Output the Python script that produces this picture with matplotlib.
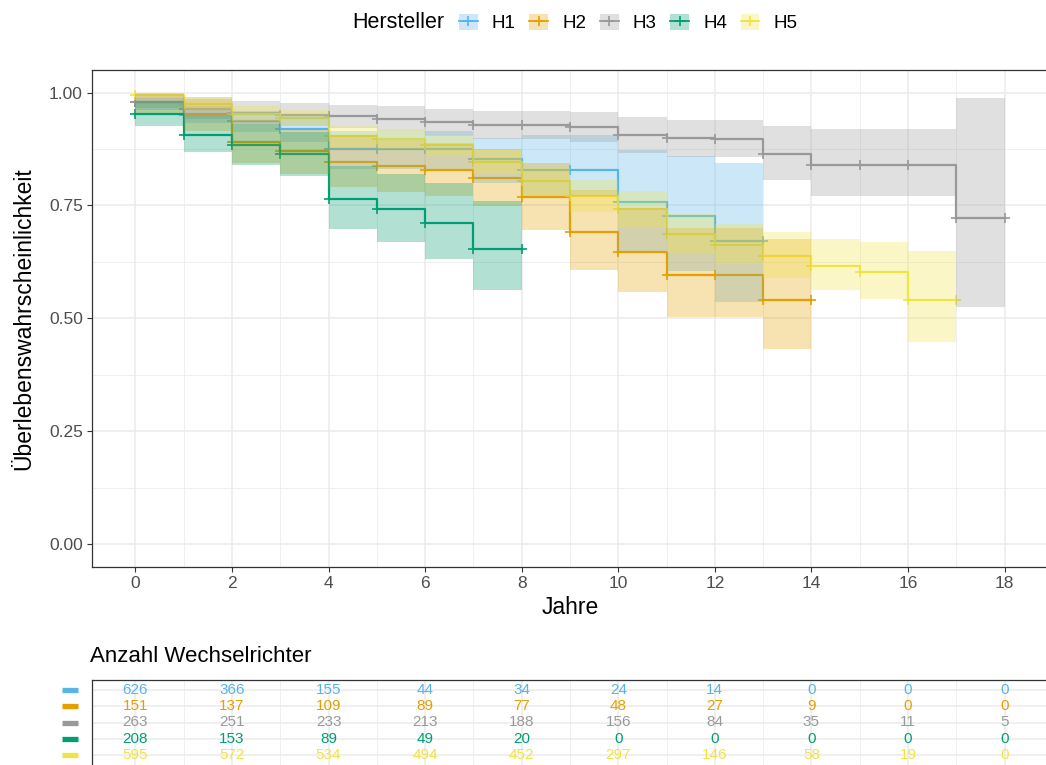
import numpy as np
import matplotlib.pyplot as plt
from matplotlib.patches import Patch
from matplotlib.lines import Line2D
from matplotlib.legend_handler import HandlerTuple
from matplotlib.transforms import blended_transform_factory

plt.rcParams['font.family'] = ['Liberation Sans', 'DejaVu Sans']

# Survival estimates per yearly interval [k, k+1)
groups = ["H1", "H2", "H3", "H4", "H5"]
colors = ["#56B4E9", "#E69F00", "#999999", "#009E73", "#F0E442"]

h1_est = [0.978, 0.952, 0.937, 0.920, 0.874, 0.874, 0.874, 0.852, 0.829, 0.829, 0.758, 0.726, 0.672]
h1_low = [0.965, 0.932, 0.912, 0.890, 0.830, 0.830, 0.830, 0.800, 0.770, 0.770, 0.650, 0.605, 0.537]
h1_upp = [0.990, 0.970, 0.960, 0.950, 0.915, 0.915, 0.915, 0.900, 0.905, 0.905, 0.872, 0.860, 0.845]

h2_est = [0.979, 0.950, 0.891, 0.870, 0.847, 0.837, 0.828, 0.811, 0.768, 0.690, 0.646, 0.595, 0.595, 0.540]
h2_low = [0.955, 0.915, 0.845, 0.820, 0.790, 0.780, 0.770, 0.748, 0.696, 0.607, 0.559, 0.503, 0.503, 0.432]
h2_upp = [1.000, 0.985, 0.940, 0.920, 0.905, 0.895, 0.888, 0.875, 0.845, 0.785, 0.745, 0.700, 0.700, 0.675]

h3_est = [0.979, 0.964, 0.955, 0.951, 0.948, 0.942, 0.934, 0.929, 0.929, 0.924, 0.905, 0.899, 0.898,
          0.865, 0.839, 0.839, 0.839, 0.721]
h3_low = [0.962, 0.942, 0.930, 0.925, 0.921, 0.914, 0.903, 0.897, 0.897, 0.890, 0.866, 0.858, 0.857,
          0.807, 0.770, 0.770, 0.770, 0.525]
h3_upp = [0.996, 0.990, 0.982, 0.977, 0.973, 0.971, 0.964, 0.960, 0.960, 0.956, 0.945, 0.940, 0.940,
          0.927, 0.919, 0.919, 0.919, 0.987]

h4_est = [0.953, 0.907, 0.884, 0.863, 0.765, 0.741, 0.711, 0.653]
h4_low = [0.925, 0.868, 0.839, 0.815, 0.698, 0.669, 0.632, 0.562]
h4_upp = [0.982, 0.948, 0.930, 0.913, 0.838, 0.820, 0.800, 0.760]

h5_est = [0.994, 0.975, 0.953, 0.944, 0.903, 0.898, 0.883, 0.847, 0.803, 0.771, 0.741, 0.687, 0.663,
          0.639, 0.615, 0.602, 0.540]
h5_low = [0.987, 0.962, 0.936, 0.926, 0.880, 0.875, 0.860, 0.820, 0.770, 0.735, 0.700, 0.645, 0.620,
          0.590, 0.562, 0.543, 0.447]
h5_upp = [1.000, 0.988, 0.970, 0.962, 0.925, 0.920, 0.905, 0.872, 0.833, 0.806, 0.781, 0.730, 0.709,
          0.691, 0.676, 0.668, 0.648]

estimates = [h1_est, h2_est, h3_est, h4_est, h5_est]
lowers = [h1_low, h2_low, h3_low, h4_low, h5_low]
uppers = [h1_upp, h2_upp, h3_upp, h4_upp, h5_upp]

# number at risk table
risk_years = [0, 2, 4, 6, 8, 10, 12, 14, 16, 18]
risk_h1 = [626, 366, 155, 44, 34, 24, 14, 0, 0, 0]
risk_h2 = [151, 137, 109, 89, 77, 48, 27, 9, 0, 0]
risk_h3 = [263, 251, 233, 213, 188, 156, 84, 35, 11, 5]
risk_h4 = [208, 153, 89, 49, 20, 0, 0, 0, 0, 0]
risk_h5 = [595, 572, 534, 494, 452, 297, 146, 58, 19, 0]
risk_rows = [risk_h1, risk_h2, risk_h3, risk_h4, risk_h5]

W, H = 1046, 765
fig = plt.figure(figsize=(W / 100, H / 100), dpi=100)

grid_col = "#EBEBEB"
tick_col = "#4D4D4D"
frame_col = "#333333"

###############################################################################
# Survival curves
###############################################################################
ax = fig.add_axes([92 / W, 198.5 / H, 956 / W, 496.5 / H])
ax.set_xlim(-0.9, 18.9)
ax.set_ylim(-0.05, 1.05)

for est, low, upp, col in zip(estimates, lowers, uppers, colors):
    t = np.arange(len(est) + 1)
    s = np.append(est, est[-1])
    lo = np.append(low, low[-1])
    hi = np.append(upp, upp[-1])
    ax.plot(t, s, drawstyle='steps-post', color=col, lw=1.6, marker='+',
            markersize=7, markeredgewidth=1.2, zorder=3)
    ax.fill_between(t, lo, hi, step='post', color=col, alpha=0.3, lw=0, zorder=4)

ax.set_xticks(np.arange(0, 19, 2))
ax.set_xticks(np.arange(1, 19, 2), minor=True)
ax.set_yticks([0, 0.25, 0.5, 0.75, 1.0])
ax.set_yticklabels(["0.00", "0.25", "0.50", "0.75", "1.00"])
ax.set_yticks([0.125, 0.375, 0.625, 0.875], minor=True)
ax.grid(True, which='major', color=grid_col, lw=1.1, zorder=0)
ax.grid(True, which='minor', color=grid_col, lw=0.55, zorder=0)
ax.set_axisbelow(True)
ax.tick_params(which='major', length=3.5, width=0.8, color=frame_col,
               labelcolor=tick_col, labelsize=12.5, pad=3)
ax.tick_params(which='minor', length=0)
for sp in ax.spines.values():
    sp.set_color(frame_col)
    sp.set_linewidth(0.9)

ax.set_xlabel("Jahre", fontsize=16.5, labelpad=4)
ax.set_ylabel("Überlebenswahrscheinlichkeit", fontsize=16.5, labelpad=10)

# legend on top: filled square with the line and the + mark over it
handles = [(Patch(facecolor=c, alpha=0.3, edgecolor='none'),
            Line2D([], [], color=c, lw=1.3, marker='+', markersize=7, markeredgewidth=1.2))
           for c in colors]
fig.text(352 / W, 1 - 23 / H, "Hersteller", fontsize=15.5, va='center', ha='left')
fig.legend(handles, groups, loc='center left', bbox_to_anchor=(459 / W, 1 - 23 / H),
           ncol=5, frameon=False, fontsize=13.5, handlelength=1.0, handleheight=1.0,
           handletextpad=0.75, columnspacing=0.73, borderpad=0, borderaxespad=0,
           handler_map={tuple: HandlerTuple(ndivide=1)})

###############################################################################
# Risk table
###############################################################################
fig.text(90 / W, 1 - 657 / H, "Anzahl Wechselrichter", fontsize=16, va='center', ha='left')

tab = fig.add_axes([92 / W, 0, 956 / W, 85 / H])
tab.set_xlim(-0.9, 18.9)
tab.set_ylim(5.6, 0.4)
tab.set_xticks(np.arange(0, 19, 2))
tab.set_xticks(np.arange(1, 19, 2), minor=True)
tab.set_yticks(np.arange(1, 6))
tab.grid(True, which='major', color=grid_col, lw=1.1, zorder=0)
tab.grid(True, which='minor', axis='x', color=grid_col, lw=0.55, zorder=0)
tab.tick_params(which='both', length=0, labelbottom=False, labelleft=False)
for name, sp in tab.spines.items():
    sp.set_color(frame_col)
    sp.set_linewidth(0.9)
tab.spines['bottom'].set_visible(False)
tab.spines['right'].set_visible(False)

trans = blended_transform_factory(fig.transFigure, tab.transData)
for i, (row, col) in enumerate(zip(risk_rows, colors)):
    yrow = i + 1
    for yr, n in zip(risk_years, row):
        tab.text(yr, yrow, str(n), color=col, fontsize=11, ha='center', va='center')
    tab.plot([62 / W, 78 / W], [yrow, yrow], color=col, lw=3.8, solid_capstyle='butt',
             transform=trans, clip_on=False)

fig.savefig("out.png", dpi=100)
